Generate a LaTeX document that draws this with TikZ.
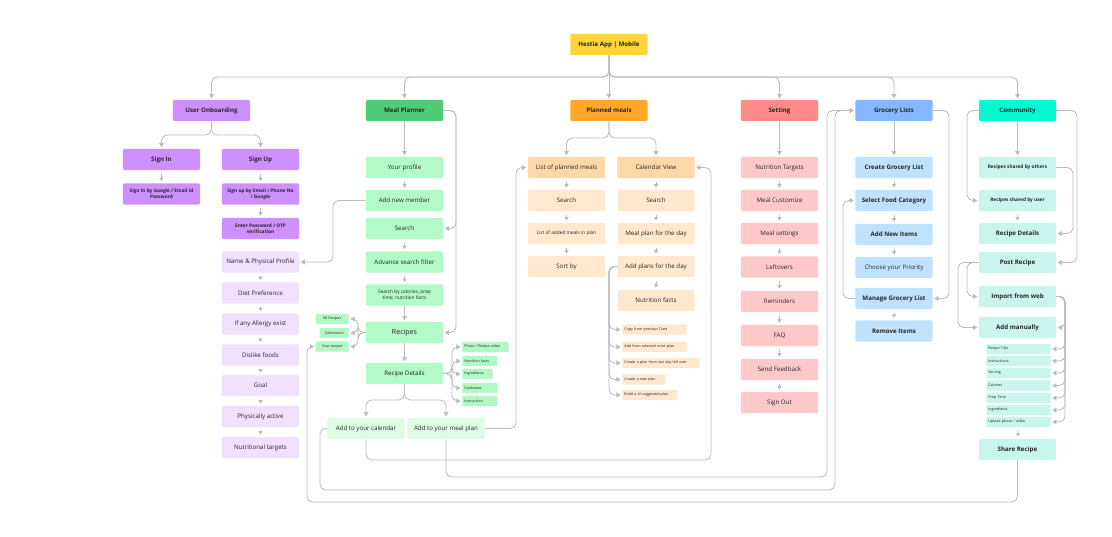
\documentclass[tikz,border=0pt]{standalone}
\usepackage{fontspec}
\setmainfont{Open Sans}
\usetikzlibrary{arrows.meta}

\definecolor{lgray}{RGB}{188,188,188}
\definecolor{hestiaY}{RGB}{255,212,59}
\definecolor{uoDark}{RGB}{206,143,255}
\definecolor{uoLight}{RGB}{240,225,255}
\definecolor{mpDark}{RGB}{80,203,120}
\definecolor{mpMid}{RGB}{178,250,200}
\definecolor{mpPale}{RGB}{222,252,228}
\definecolor{mpTag}{RGB}{178,248,196}
\definecolor{pmDark}{RGB}{255,167,41}
\definecolor{pmMid}{RGB}{255,215,168}
\definecolor{pmLight}{RGB}{255,232,205}
\definecolor{stDark}{RGB}{255,138,138}
\definecolor{stLight}{RGB}{255,200,200}
\definecolor{glDark}{RGB}{133,182,255}
\definecolor{glLight}{RGB}{190,226,255}
\definecolor{cmDark}{RGB}{0,250,210}
\definecolor{cmLight}{RGB}{200,246,236}

\newcommand\fsz[2]{\fontsize{#1}{#2}\selectfont}

\begin{document}
\begin{tikzpicture}[
    x=0.025cm, y=-0.025cm,
    wire/.style={draw=lgray, line width=0.6pt, rounded corners=4pt},
    link/.style={wire, -{Triangle[length=3pt,width=3.4pt]}, shorten >=1pt},
    stepdown/.style={draw=lgray, line width=0.6pt, -{Triangle[length=2.4pt,width=3pt]}, shorten <=2.5pt, shorten >=1.5pt},
    box/.style={minimum width=1.925cm, minimum height=0.525cm, inner sep=1pt, rounded corners=0.8pt, align=center, text=black!85, font=\fsz{4.4}{5.4}},
    headbox/.style={box, font=\bfseries\fsz{4.4}{5.4}},
    smallbox/.style={box, font=\fsz{3.4}{4.4}},
    smallbf/.style={box, font=\bfseries\fsz{3.4}{4.4}},
    tagbox/.style={anchor=west, minimum height=0.25cm, inner xsep=1.5pt, inner ysep=0pt, rounded corners=0.5pt, align=left, text=black!85, font=\fsz{2.6}{3}},
    tagw/.style={tagbox, text width=#1},
  ]
  \useasboundingbox (0,0) rectangle (1112,537);

  % Kopf
  \node[headbox, fill=hestiaY] (hestia) at (609,44.5) {Hestia App | Mobile};
  \node[headbox, fill=uoDark] (onboard) at (211.5,110.5) {User Onboarding};
  \node[headbox, fill=mpDark] (planner) at (404.5,110.5) {Meal Planner};
  \node[headbox, fill=pmDark] (planned) at (609,110.5) {Planned meals};
  \node[headbox, fill=stDark] (setting) at (779.5,110.5) {Setting};
  \node[headbox, fill=glDark] (grocery) at (894,110.5) {Grocery Lists};
  \node[headbox, fill=cmDark] (community) at (1017.5,110.5) {Community};

  \draw[link] (hestia.south) -- (planned.north);
  \draw[link] (hestia.south) -- (609,77) -| (onboard.north);
  \draw[link] (hestia.south) -- (609,77) -| (planner.north);
  \draw[link] (hestia.south) -- (609,77) -| (setting.north);
  \draw[link] (hestia.south) -- (609,77) -| (grocery.north);
  \draw[link] (hestia.south) -- (609,77) -| (community.north);

  % User Onboarding
  \node[headbox, fill=uoDark] (signin) at (161.5,159.5) {Sign In};
  \node[headbox, fill=uoDark] (signup) at (260.5,159.5) {Sign Up};
  \node[smallbf, fill=uoDark] (signinvia) at (161.5,194) {Sign In by Google / Email id\\Password};
  \node[smallbf, fill=uoDark] (signupvia) at (260.5,194) {Sign up by Email / Phone No\\/ Google};
  \node[smallbf, fill=uoDark] (otp) at (260.5,228.5) {Enter Password / OTP\\verification};
  \node[box, fill=uoLight] (physical) at (260.5,262) {Name \& Physical Profile};
  \node[box, fill=uoLight] (diet) at (260.5,293) {Diet Preference};
  \node[box, fill=uoLight] (allergy) at (260.5,324) {If any Allergy exist};
  \node[box, fill=uoLight] (dislike) at (260.5,355) {Dislike foods};
  \node[box, fill=uoLight] (goal) at (260.5,385.5) {Goal};
  \node[box, fill=uoLight] (active) at (260.5,416.5) {Physically active};
  \node[box, fill=uoLight] (targets) at (260.5,447.5) {Nutritional targets};

  \draw[link] (onboard.south) -- (211.5,135) -| (signin.north);
  \draw[link] (onboard.south) -- (211.5,135) -| (signup.north);
  \draw[stepdown] (signin) -- (signinvia);
  \draw[stepdown] (signup) -- (signupvia);
  \draw[stepdown] (signupvia) -- (otp);
  \draw[stepdown] (physical) -- (diet);
  \draw[stepdown] (diet) -- (allergy);
  \draw[stepdown] (allergy) -- (dislike);
  \draw[stepdown] (dislike) -- (goal);
  \draw[stepdown] (goal) -- (active);
  \draw[stepdown] (active) -- (targets);

  % Meal Planner
  \node[box, fill=mpMid] (profile) at (404.5,167.5) {Your profile};
  \node[box, fill=mpMid] (member) at (404.5,200.5) {Add new member};
  \node[box, fill=mpMid] (search) at (404.5,228.5) {Search};
  \node[box, fill=mpMid] (filter) at (404.5,262) {Advance search filter};
  \node[smallbox, fill=mpMid] (bycal) at (404.5,295) {Search by calories, prep\\time, nutrition facts};
  \node[box, fill=mpMid, font=\fsz{5}{6}] (recipes) at (404.5,332.5) {Recipes};
  \node[box, fill=mpMid] (details) at (404.5,373.5) {Recipe Details};
  \node[box, fill=mpPale] (tocal) at (366,428.5) {Add to your calendar};
  \node[box, fill=mpPale] (toplan) at (446,428.5) {Add to your meal plan};

  \node[tagbox, fill=mpTag, anchor=east, minimum width=0.825cm, align=center] (allrec) at (349,319) {All Recipes};
  \node[tagbox, fill=mpTag, anchor=east, minimum width=0.725cm, align=center] (collect) at (349,333) {Collections};
  \node[tagbox, fill=mpTag, anchor=east, minimum width=0.825cm, align=center] (yourrec) at (349,346.5) {Your recipes};
  \node[tagw=1.05cm, fill=mpTag] (photo) at (462,347) {Photo / Recipe video};
  \node[tagw=0.77cm, fill=mpTag] (nutfacts) at (462,361) {Nutrition facts};
  \node[tagw=0.65cm, fill=mpTag] (ingred) at (462,374) {Ingredients};
  \node[tagw=0.77cm, fill=mpTag] (cookware) at (462,388) {Cookware};
  \node[tagw=0.77cm, fill=mpTag] (instruct) at (462,401) {Instruction};

  \draw[link] (planner) -- (profile);
  \draw[stepdown] (profile) -- (member);
  \draw[stepdown] (search) -- (filter);
  \draw[stepdown] (filter) -- (bycal);
  \draw[link] (bycal) -- (recipes);
  \draw[link] (recipes) -- (details);
  \draw[link] (planner.east) -- (456,110.5) |- (search.east);
  \draw[link] (planner.east) -- (456,110.5) |- (recipes.east);
  \draw[link] (member.west) -- (333,200.5) |- (physical.east);
  \draw[link] (recipes.west) -- (358,332.5) |- (allrec.east);
  \draw[link] (recipes.west) -- (358,332.5) |- (collect.east);
  \draw[link] (recipes.west) -- (358,332.5) |- (yourrec.east);
  \draw[link] (details.east) -- (452,373.5) |- (photo.west);
  \draw[link] (details.east) -- (452,373.5) |- (nutfacts.west);
  \draw[link] (details.east) -- (452,373.5) |- (ingred.west);
  \draw[link] (details.east) -- (452,373.5) |- (cookware.west);
  \draw[link] (details.east) -- (452,373.5) |- (instruct.west);
  \draw[link] (details.south) -- (404.5,400) -| (tocal.north);
  \draw[link] (details.south) -- (404.5,400) -| (toplan.north);

  % Planned meals
  \node[box, fill=pmMid] (planlist) at (566.5,167.5) {List of planned meals};
  \node[box, fill=pmMid] (calview) at (656,167.5) {Calendar View};
  \node[box, fill=pmLight] (plsearch) at (566.5,200.5) {Search};
  \node[box, fill=pmLight] (cvsearch) at (656,200.5) {Search};
  \node[smallbox, fill=pmLight] (added) at (566.5,233.5) {List of added meals in plan};
  \node[box, fill=pmLight] (dayplan) at (656,233.5) {Meal plan for the day};
  \node[box, fill=pmLight] (sortby) at (566.5,266.5) {Sort by};
  \node[box, fill=pmLight] (addplans) at (656,266.5) {Add plans for the day};
  \node[box, fill=pmLight] (pmnutri) at (656,300.5) {Nutrition facts};

  \node[tagw=1.5cm, fill=pmLight] (copyprev) at (622,329.5) {Copy from previous Date};
  \node[tagw=1.5cm, fill=pmLight] (fromsel) at (622,347) {Add from selected meal plan};
  \node[tagw=1.82cm, fill=pmLight] (leftover) at (622,363) {Create a plan from last day left over};
  \node[tagw=0.97cm, fill=pmLight] (newplan) at (622,379.5) {Create a new plan};
  \node[tagw=1.27cm, fill=pmLight] (aiplan) at (622,395) {Build a AI suggested plan};

  \draw[link] (planned.south) -- (609,138) -| (planlist.north);
  \draw[link] (planned.south) -- (609,138) -| (calview.north);
  \draw[stepdown] (planlist) -- (plsearch);
  \draw[stepdown] (plsearch) -- (added);
  \draw[stepdown] (added) -- (sortby);
  \draw[stepdown] (calview) -- (cvsearch);
  \draw[stepdown] (cvsearch) -- (dayplan);
  \draw[stepdown] (dayplan) -- (addplans);
  \draw[stepdown] (addplans) -- (pmnutri);
  \draw[link] (addplans.west) -- (609,266.5) |- (copyprev.west);
  \draw[link] (addplans.west) -- (609,266.5) |- (fromsel.west);
  \draw[link] (addplans.west) -- (609,266.5) |- (leftover.west);
  \draw[link] (addplans.west) -- (609,266.5) |- (newplan.west);
  \draw[link] (addplans.west) -- (609,266.5) |- (aiplan.west);

  % Setting
  \node[box, fill=stLight] (nuttarget) at (779.5,167.5) {Nutrition Targets};
  \node[box, fill=stLight] (customize) at (779.5,200.5) {Meal Customize};
  \node[box, fill=stLight] (mealset) at (779.5,233.5) {Meal settings};
  \node[box, fill=stLight] (leftovers) at (779.5,267) {Leftovers};
  \node[box, fill=stLight] (remind) at (779.5,301.5) {Reminders};
  \node[box, fill=stLight] (faq) at (779.5,335.5) {FAQ};
  \node[box, fill=stLight] (feedback) at (779.5,369.5) {Send Feedback};
  \node[box, fill=stLight] (signout) at (779.5,402.5) {Sign Out};

  \draw[link] (setting) -- (nuttarget);
  \draw[stepdown] (nuttarget) -- (customize);
  \draw[stepdown] (customize) -- (mealset);
  \draw[stepdown] (mealset) -- (leftovers);
  \draw[stepdown] (leftovers) -- (remind);
  \draw[stepdown] (remind) -- (faq);
  \draw[stepdown] (faq) -- (feedback);
  \draw[stepdown] (feedback) -- (signout);

  % Grocery Lists
  \node[box, fill=glLight, font=\bfseries\fsz{4.4}{5.4}] (creategl) at (894,167.5) {Create Grocery List};
  \node[box, fill=glLight, font=\bfseries\fsz{4.4}{5.4}] (category) at (894,200.5) {Select Food Category};
  \node[box, fill=glLight, font=\bfseries\fsz{4.4}{5.4}] (newitems) at (894,234.5) {Add New Items};
  \node[box, fill=glLight] (priority) at (894,267.5) {Choose your Priority};
  \node[box, fill=glLight, font=\bfseries\fsz{4.4}{5.4}] (managegl) at (894,298.5) {Manage Grocery List};
  \node[box, fill=glLight, font=\bfseries\fsz{4.4}{5.4}] (removeit) at (894,331) {Remove Items};

  \draw[link] (grocery) -- (creategl);
  \draw[stepdown] (creategl) -- (category);
  \draw[stepdown] (category) -- (newitems);
  \draw[stepdown] (newitems) -- (priority);
  \draw[stepdown] (managegl) -- (removeit);
  \draw[link] (managegl.west) -- (843,298.5) |- (category.west);
  \draw[link] (grocery.east) -- (949,110.5) |- (managegl.east);

  % Community
  \node[smallbf, fill=cmLight] (byothers) at (1017.5,167.5) {Recipes shared by others};
  \node[smallbf, fill=cmLight] (byuser) at (1017.5,200.5) {Recipes shared by user};
  \node[headbox, fill=cmLight] (cmdetails) at (1017.5,233.5) {Recipe Details};
  \node[headbox, fill=cmLight] (post) at (1017.5,262.5) {Post Recipe};
  \node[headbox, fill=cmLight] (fromweb) at (1017.5,296.5) {Import from web};
  \node[headbox, fill=cmLight] (manual) at (1017.5,327.5) {Add manually};
  \node[tagw=1.5cm, fill=cmLight] (rtitle) at (986,349) {Recipe Title};
  \node[tagw=1.5cm, fill=cmLight] (rinstr) at (986,361) {Instructions};
  \node[tagw=1.5cm, fill=cmLight] (rserve) at (986,373) {Serving};
  \node[tagw=1.5cm, fill=cmLight] (rcal) at (986,385.5) {Calories};
  \node[tagw=1.5cm, fill=cmLight] (rprep) at (986,398) {Prep Time};
  \node[tagw=1.5cm, fill=cmLight] (ringr) at (986,410) {Ingredients};
  \node[tagw=1.5cm, fill=cmLight] (rupload) at (986,422) {Upload photo / video};
  \node[headbox, fill=cmLight] (share) at (1017.5,449.5) {Share Recipe};

  \draw[link] (community) -- (byothers);
  \draw[stepdown] (byuser) -- (cmdetails);
  \draw[stepdown] (rupload) -- (share);
  \draw[link] (community.west) -- (967,110.5) |- (byuser.west);
  \draw[link] (community.east) -- (1077,110.5) |- (post.east);
  \draw[link] (byothers.east) -- (1073,167.5) |- (cmdetails.east);
  \draw[link] (post.west) -- (967,262.5) |- (fromweb.west);
  \draw[link] (post.west) -- (958,262.5) |- (manual.west);
  \draw[link] (fromweb.east) -- (1065,296.5) |- (manual.east);
  \draw[link] (fromweb.east) -- (1065,296.5) |- (rtitle.east);
  \draw[link] (fromweb.east) -- (1065,296.5) |- (rinstr.east);
  \draw[link] (fromweb.east) -- (1065,296.5) |- (rserve.east);
  \draw[link] (fromweb.east) -- (1065,296.5) |- (rcal.east);
  \draw[link] (fromweb.east) -- (1065,296.5) |- (rprep.east);
  \draw[link] (fromweb.east) -- (1065,296.5) |- (ringr.east);
  \draw[link] (fromweb.east) -- (1065,296.5) |- (rupload.east);

  % Querverbindungen
  \draw[link] (toplan.east) -- (516,428.5) |- (planlist.west);
  \draw[link] (tocal.south) |- (711,460) |- (calview.east);
  \draw[link] (toplan.south) |- (827,477) |- (grocery.west);
  \draw[link] (tocal.west) -- (320,428.5) |- (835,490) |- (grocery.west);
  \draw[link] (share.south) |- (307,502) |- (yourrec.west);
\end{tikzpicture}
\end{document}
